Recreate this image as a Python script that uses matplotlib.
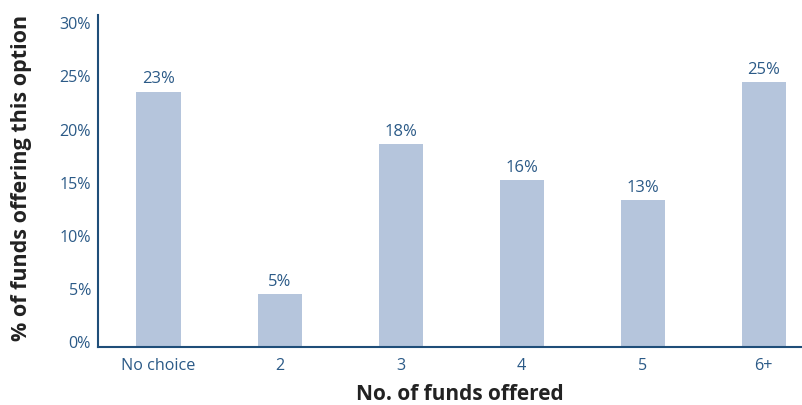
import matplotlib.pyplot as plt
import matplotlib.transforms as mtransforms

# data
categories = ["No choice", "2", "3", "4", "5", "6+"]
values = [24.0, 4.95, 19.05, 15.67, 13.8, 24.9]
value_labels = ["23%", "5%", "18%", "16%", "13%", "25%"]
y_ticks = [0, 5, 10, 15, 20, 25, 30]

bar_color = "#b5c5dc"
text_blue = "#2b5a87"
axis_blue = "#1f4e79"

plt.rcParams["font.family"] = ["Open Sans", "DejaVu Sans"]

fig = plt.figure(figsize=(8.02, 4.05), dpi=100)
ax = fig.add_axes([98 / 802, (405 - 346.7) / 405, (802 - 98) / 802, (346.7 - 15) / 405])

x = range(len(categories))
bars = ax.bar(x, values, width=0.364, color=bar_color)

for b, lab in zip(bars, value_labels):
    ax.annotate(lab, (b.get_x() + b.get_width() / 2, b.get_height()),
                xytext=(0, 3), textcoords="offset points",
                ha="center", va="bottom", fontsize=12, color=text_blue)

ax.set_xlim(-0.5, 5.317)
ax.set_ylim(0, 31.2)
ax.set_xticks(list(x))
ax.set_xticklabels(categories)
ax.set_yticks(y_ticks)
ax.set_yticklabels([f"{t}%" for t in y_ticks])
ax.tick_params(axis="both", length=0, labelsize=11.6, colors=text_blue)
ax.tick_params(axis="x", pad=8)
ax.tick_params(axis="y", pad=5)

# y tick labels sit a little above their ticks in the original
shift = mtransforms.ScaledTranslation(0, 4.5 / 100, fig.dpi_scale_trans)
for lbl in ax.get_yticklabels():
    lbl.set_transform(lbl.get_transform() + shift)

for side in ("top", "right"):
    ax.spines[side].set_visible(False)
for side in ("left", "bottom"):
    ax.spines[side].set_color(axis_blue)
    ax.spines[side].set_linewidth(1.5)

ax.set_xlabel("No. of funds offered", fontsize=15, fontweight="bold", color="#222222")
ax.xaxis.set_label_coords((460 - 98) / 704, -(395 - 346.7) / 331.7)
ax.xaxis.label.set_va("center")
ax.set_ylabel("% of funds offering this option", fontsize=15.5, fontweight="bold", color="#222222")
ax.yaxis.set_label_coords(-(98 - 22) / 704, (346.7 - 178) / 331.7)
ax.yaxis.label.set_va("center")

fig.savefig("out.png", dpi=100)
